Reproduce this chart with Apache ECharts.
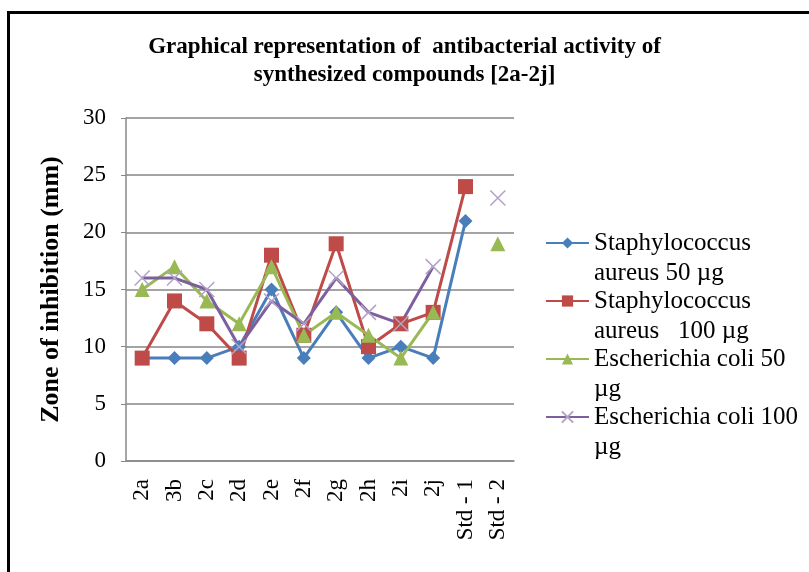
<!DOCTYPE html>
<html><head><meta charset="utf-8">
<script src="https://cdn.jsdelivr.net/npm/echarts@6/dist/echarts.min.js"></script>
<style>html,body{margin:0;padding:0;background:#fff}#c{width:809px;height:572px}</style>
</head><body><div id="c"></div>
<script>
var categories = ['2a','3b','2c','2d','2e','2f','2g','2h','2i','2j','Std - 1','Std - 2'];
var saureus50  = [9, 9, 9, 10, 15, 9, 13, 9, 10, 9, 21, '-'];
var saureus100 = [9, 14, 12, 9, 18, 11, 19, 10, 12, 13, 24, '-'];
var ecoli50    = [15, 17, 14, 12, 17, 11, 13, 11, 9, 13, '-', 19];
var ecoli100   = [16, 16, 15, 10, 14, 12, 16, 13, 12, 17, '-', 23];
var seriesNames = ['Staphylococcus aureus 50 µg','Staphylococcus aureus   100 µg','Escherichia coli 50 µg','Escherichia coli 100 µg'];
var legendLines = {
  'Staphylococcus aureus 50 µg': ['Staphylococcus','aureus 50 µg'],
  'Staphylococcus aureus   100 µg': ['Staphylococcus','aureus   100 µg'],
  'Escherichia coli 50 µg': ['Escherichia coli 50','µg'],
  'Escherichia coli 100 µg': ['Escherichia coli 100','µg']
};
var yTicks = {min: 0, max: 30, interval: 5};
var titleText = 'Graphical representation of  antibacterial activity of\nsynthesized compounds [2a-2j]';
var yName = 'Zone of inhibition (mm)';

var serif = '"Liberation Serif", "DejaVu Serif", serif';
var chart = echarts.init(document.getElementById('c'), null, {renderer: 'canvas'});
var crossPath = 'path://M0,0L10,10M10,0L0,10';
function mk(name, data, color, symbol, size, extra) {
  var s = {
    name: name, type: 'line', data: data, symbol: symbol, symbolSize: size,
    showAllSymbol: true, connectNulls: false,
    lineStyle: {color: color, width: 3},
    itemStyle: {color: color},
    emphasis: {disabled: true}, animation: false
  };
  if (extra) Object.assign(s, extra);
  return s;
}
chart.setOption({
  backgroundColor: '#ffffff',
  animation: false,
  title: {
    text: titleText, left: 'center', top: 28,
    textStyle: {fontFamily: serif, fontWeight: 'bold', fontSize: 23, lineHeight: 28, color: '#000'}
  },
  grid: {left: 126, right: 295, top: 118, bottom: 111, containLabel: false},
  xAxis: {
    type: 'category', data: categories, boundaryGap: true,
    axisLine: {lineStyle: {color: '#888', width: 1.5}},
    axisTick: {show: false},
    axisLabel: {rotate: 90, margin: 18, fontFamily: serif, fontSize: 23, color: '#000', interval: 0},
    splitLine: {show: false}
  },
  yAxis: {
    type: 'value', min: yTicks.min, max: yTicks.max, interval: yTicks.interval,
    name: yName, nameLocation: 'middle', nameRotate: 90, nameGap: 62,
    nameTextStyle: {fontFamily: serif, fontWeight: 'bold', fontSize: 26, color: '#000'},
    axisLine: {show: true, lineStyle: {color: '#888', width: 1.5}},
    axisTick: {show: true, length: 5, lineStyle: {color: '#888'}},
    axisLabel: {margin: 20, fontFamily: serif, fontSize: 23, color: '#000'},
    splitLine: {show: true, lineStyle: {color: '#868686', width: 1.5}}
  },
  legend: {
    orient: 'vertical', left: 540, top: 193, itemWidth: 43, itemHeight: 14, itemGap: -32,
    data: seriesNames,
    formatter: function (n) { var l = legendLines[n]; return '\n' + l[0] + '\n' + l[1]; },
    textStyle: {fontFamily: serif, fontSize: 25, lineHeight: 30, color: '#000'},
    selectedMode: false
  },
  graphic: [{
    type: 'rect', shape: {x: 8.5, y: 12.5, width: 900, height: 700},
    style: {fill: 'none', stroke: '#000', lineWidth: 3}, silent: true, z: 100
  }],
  series: [
    mk(seriesNames[0], saureus50, '#4A7EBB', 'diamond', 14),
    mk(seriesNames[1], saureus100, '#BE4B48', 'rect', 15),
    mk(seriesNames[2], ecoli50, '#98B954', 'triangle', 15),
    mk(seriesNames[3], ecoli100, '#7D5FA0', crossPath, 15, {
      itemStyle: {color: 'none', borderColor: '#B3A2C7', borderWidth: 1.5}
    })
  ]
});
</script></body></html>
